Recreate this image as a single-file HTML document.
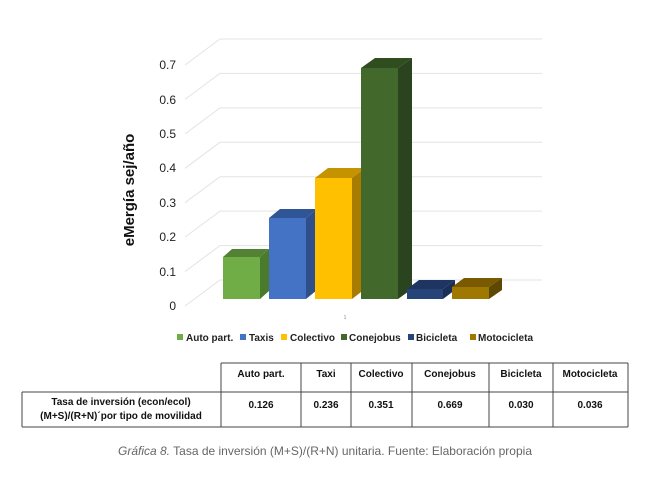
<!DOCTYPE html>
<html><head><meta charset="utf-8"><style>
body{margin:0;background:#fff;width:650px;height:478px;overflow:hidden;font-family:"Liberation Sans",sans-serif}
</style></head><body>
<svg width="650" height="478" viewBox="0 0 650 478" xmlns="http://www.w3.org/2000/svg" font-family="Liberation Sans, sans-serif">
<g stroke="#e3e3e3" stroke-width="1" fill="none">
<path d="M185 306 L220 280 L542 280"/>
<path d="M185 271.6 L220 245.6 L542 245.6"/>
<path d="M185 237.1 L220 211.1 L542 211.1"/>
<path d="M185 202.7 L220 176.7 L542 176.7"/>
<path d="M185 168.3 L220 142.3 L542 142.3"/>
<path d="M185 133.9 L220 107.9 L542 107.9"/>
<path d="M185 99.4 L220 73.4 L542 73.4"/>
<path d="M185 65 L220 39 L542 39"/>
</g>
<g font-size="12" fill="#222" text-anchor="end">
<text x="176" y="310">0</text><text x="176" y="276">0.1</text><text x="176" y="241">0.2</text>
<text x="176" y="207">0.3</text><text x="176" y="172">0.4</text><text x="176" y="138">0.5</text>
<text x="176" y="104">0.6</text><text x="176" y="69">0.7</text>
</g>
<text transform="translate(134,190) rotate(-90)" font-size="15" font-weight="bold" text-anchor="middle" fill="#111">eMergía sej/año</text>
<!-- bars: x, w=37, top -->
<g>
<polygon points="223,257 232,249 269,249 260,257" fill="#548235"/><polygon points="260,257 269,249 269,291 260,299" fill="#4a7a2c"/><rect x="223" y="257" width="37" height="42" fill="#70ad47"/>
<polygon points="269,218 280,209 317,209 306,218" fill="#2f5597"/><polygon points="306,218 317,209 317,290 306,299" fill="#2e4f8a"/><rect x="269" y="218" width="37" height="81" fill="#4472c4"/>
<polygon points="315,178 328,168 365,168 352,178" fill="#c59300"/><polygon points="352,178 365,168 365,289 352,299" fill="#a87c00"/><rect x="315" y="178" width="37" height="121" fill="#ffc000"/>
<polygon points="361,68 375,58 412,58 398,68" fill="#2f4d1f"/><polygon points="398,68 412,58 412,289 398,299" fill="#2b4420"/><rect x="361" y="68" width="37" height="231" fill="#43682b"/>
<polygon points="407,289 419,280 455,280 443,289" fill="#1e3461"/><polygon points="443,289 455,280 455,290 443,299" fill="#1b2e55"/><rect x="407" y="289" width="36" height="10" fill="#264478"/>
<polygon points="452,287 464,278 502,278 489,287" fill="#7a5a00"/><polygon points="489,287 502,278 502,290 489,299" fill="#5e4700"/><rect x="452" y="287" width="37" height="12" fill="#9e7800"/>
</g>
<text x="345" y="319" font-size="5" fill="#888" text-anchor="middle">1</text>
<g font-size="10" fill="#222" font-weight="bold">
<rect x="177" y="334" width="6" height="6" fill="#70ad47"/><text x="186" y="341">Auto part.</text>
<rect x="240" y="334" width="6" height="6" fill="#4472c4"/><text x="249" y="341">Taxis</text>
<rect x="281" y="334" width="6" height="6" fill="#ffc000"/><text x="290" y="341">Colectivo</text>
<rect x="341" y="334" width="6" height="6" fill="#43682b"/><text x="349" y="341">Conejobus</text>
<rect x="408" y="334" width="6" height="6" fill="#264478"/><text x="416" y="341">Bicicleta</text>
<rect x="470" y="334" width="6" height="6" fill="#9e7800"/><text x="478" y="341">Motocicleta</text>
</g>
<g stroke="#444" stroke-width="1" fill="none">
<line x1="221" y1="363" x2="628" y2="363"/>
<line x1="22" y1="392" x2="628" y2="392"/>
<line x1="22" y1="427" x2="628" y2="427"/>
<line x1="22" y1="392" x2="22" y2="427"/>
<line x1="221" y1="363" x2="221" y2="427"/>
<line x1="301" y1="363" x2="301" y2="427"/>
<line x1="351" y1="363" x2="351" y2="427"/>
<line x1="412" y1="363" x2="412" y2="427"/>
<line x1="489" y1="363" x2="489" y2="427"/>
<line x1="553" y1="363" x2="553" y2="427"/>
<line x1="628" y1="363" x2="628" y2="427"/>
</g>
<g font-size="10" font-weight="bold" fill="#111" text-anchor="middle">
<text x="261" y="377">Auto part.</text><text x="326" y="377">Taxi</text><text x="381" y="377">Colectivo</text>
<text x="450" y="377">Conejobus</text><text x="521" y="377">Bicicleta</text><text x="590" y="377">Motocicleta</text>
<text x="261" y="408">0.126</text><text x="326" y="408">0.236</text><text x="381" y="408">0.351</text>
<text x="450" y="408">0.669</text><text x="521" y="408">0.030</text><text x="590" y="408">0.036</text>
<text x="121" y="405">Tasa de inversión (econ/ecol)</text>
<text x="121" y="419">(M+S)/(R+N)´por tipo de movilidad</text>
</g>
<text x="325" y="455" font-size="12" fill="#666" text-anchor="middle"><tspan font-style="italic">Gráfica 8.</tspan> Tasa de inversión (M+S)/(R+N) unitaria. Fuente: Elaboración propia</text>
</svg>
</body></html>
